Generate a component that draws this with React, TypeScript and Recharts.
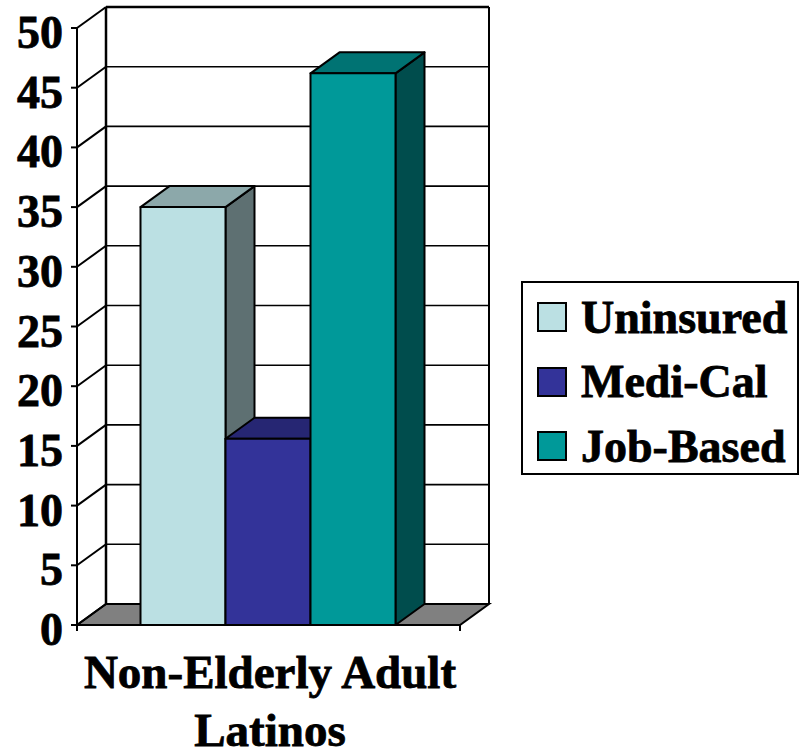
import React from 'react';
import { BarChart, Bar, XAxis, YAxis, CartesianGrid, Legend } from 'recharts';

const categories = ['Non-Elderly Adult Latinos'];
const categoryLines = ['Non-Elderly Adult', 'Latinos'];
const seriesNames = ['Uninsured', 'Medi-Cal', 'Job-Based'];
const uninsuredValues = [35];
const mediCalValues = [15.6];
const jobBasedValues = [46.2];
const yTicks = [0, 5, 10, 15, 20, 25, 30, 35, 40, 45, 50];

const frontColors = ['#BBE0E3', '#333399', '#009999'];
const topColors = ['#8CA8AA', '#262673', '#007373'];
const sideColors = ['#5E7072', '#1A1A4D', '#004D4D'];

const FONT = '"Liberation Serif", serif';
const DEPTH_X = 29;
const DEPTH_Y = 21;

const data = categories.map((category, i) => ({
  category,
  Uninsured: uninsuredValues[i],
  'Medi-Cal': mediCalValues[i],
  'Job-Based': jobBasedValues[i],
}));

const Box3D = (colorIndex: number) => (props: any) => {
  const { y, width, height } = props;
  const x = props.x - 0.5;
  const dx = DEPTH_X;
  const dy = DEPTH_Y;
  return (
    <g stroke="#000" strokeWidth={2} strokeLinejoin="round">
      <polygon
        points={`${x + width},${y} ${x + width + dx},${y - dy} ${x + width + dx},${y + height - dy} ${x + width},${y + height}`}
        fill={sideColors[colorIndex]}
      />
      <polygon
        points={`${x},${y} ${x + dx},${y - dy} ${x + width + dx},${y - dy} ${x + width},${y}`}
        fill={topColors[colorIndex]}
      />
      <rect x={x} y={y} width={width} height={height} fill={frontColors[colorIndex]} />
    </g>
  );
};

// back wall line + diagonal for every value, floor and side walls from the edge ticks
const GridLine = (props: any) => {
  const { x1, x2, y1, index } = props;
  const isFloor = y1 > 600;
  const isTop = y1 < 40;
  return (
    <g key={`grid-${index}`} stroke="#000">
      {isFloor && (
        <polygon
          points={`${x1},${y1} ${x1 + DEPTH_X},${y1 - DEPTH_Y} ${x2 + DEPTH_X},${y1 - DEPTH_Y} ${x2},${y1}`}
          fill="#808080"
          strokeWidth={2}
        />
      )}
      {isFloor && <line x1={x1} y1={y1} x2={x1} y2={y1 + 6} strokeWidth={2} />}
      {isFloor && <line x1={x2} y1={y1} x2={x2} y2={y1 + 6} strokeWidth={2} />}
      {isTop && (
        <>
          <line x1={x1 + DEPTH_X} y1={y1 - DEPTH_Y} x2={x1 + DEPTH_X} y2={y1 - DEPTH_Y + 597} strokeWidth={2.5} />
          <line x1={x2 + DEPTH_X} y1={y1 - DEPTH_Y} x2={x2 + DEPTH_X} y2={y1 - DEPTH_Y + 597} strokeWidth={2} />
        </>
      )}
      <line x1={x1} y1={y1} x2={x1 + DEPTH_X} y2={y1 - DEPTH_Y} strokeWidth={2} />
      <line x1={x1 + DEPTH_X} y1={y1 - DEPTH_Y} x2={x2 + DEPTH_X} y2={y1 - DEPTH_Y} strokeWidth={isTop ? 2.5 : 1.6} />
    </g>
  );
};

const YTick = (props: any) => {
  const { x, y, payload } = props;
  return (
    <text
      x={x}
      y={y + 20}
      textAnchor="end"
      fontFamily={FONT}
      fontWeight="bold"
      fontSize={46}
      fill="#000"
      stroke="#000"
      strokeWidth={0.8}
    >
      {payload.value}
    </text>
  );
};

const XTick = (props: any) => {
  const { x } = props;
  return (
    <text
      textAnchor="middle"
      fontFamily={FONT}
      fontWeight="bold"
      fontSize={47}
      fill="#000"
      stroke="#000"
      strokeWidth={0.8}
    >
      {categoryLines.map((line, i) => (
        <tspan key={line} x={x + 1.5} y={688 + i * 58}>
          {line}
        </tspan>
      ))}
    </text>
  );
};

const LegendBox = (props: any) => (
  <div
    style={{
      boxSizing: 'border-box',
      width: 278,
      height: 194,
      border: '2px solid #000',
      background: '#fff',
      paddingTop: 2,
      paddingLeft: 14,
    }}
  >
    {(props.payload || []).map((entry: any) => (
      <div key={entry.value} style={{ display: 'flex', alignItems: 'center', height: 64.5 }}>
        <span
          style={{
            boxSizing: 'border-box',
            width: 30,
            height: 30,
            background: entry.color,
            border: '2px solid #000',
            marginRight: 14,
          }}
        />
        <span
          style={{
            fontFamily: FONT,
            fontWeight: 'bold',
            fontSize: 46,
            color: '#000',
            whiteSpace: 'nowrap',
            WebkitTextStroke: '0.8px #000',
          }}
        >
          {entry.value}
        </span>
      </div>
    ))}
  </div>
);

export default function App() {
  return (
    <div style={{ position: 'absolute', left: 0, top: 0 }}>
      <BarChart
        width={804}
        height={749}
        data={data}
        barCategoryGap={64}
        barGap={0}
        margin={{ top: 28, right: 66, bottom: 0, left: 0 }}
      >
        <CartesianGrid vertical={false} horizontal={GridLine as any} />
        <XAxis
          dataKey="category"
          height={124}
          axisLine={{ stroke: '#000', strokeWidth: 2 }}
          tickLine={false}
          tick={XTick as any}
          interval={0}
        />
        <YAxis
          width={77}
          domain={[0, 50]}
          ticks={yTicks}
          interval={0}
          axisLine={{ stroke: '#000', strokeWidth: 2 }}
          tickLine={{ stroke: '#000', strokeWidth: 2 }}
          tickSize={6}
          tickMargin={8}
          tick={YTick as any}
        />
        <Legend
          layout="vertical"
          align="right"
          verticalAlign="middle"
          width={278}
          height={194}
          itemSorter={null}
          wrapperStyle={{ left: 521, top: 281, right: 'auto', bottom: 'auto' }}
          content={LegendBox as any}
        />
        {seriesNames.map((name, i) => (
          <Bar
            key={name}
            dataKey={name}
            name={name}
            fill={frontColors[i]}
            isAnimationActive={false}
            shape={Box3D(i) as any}
          />
        ))}
      </BarChart>
    </div>
  );
}
